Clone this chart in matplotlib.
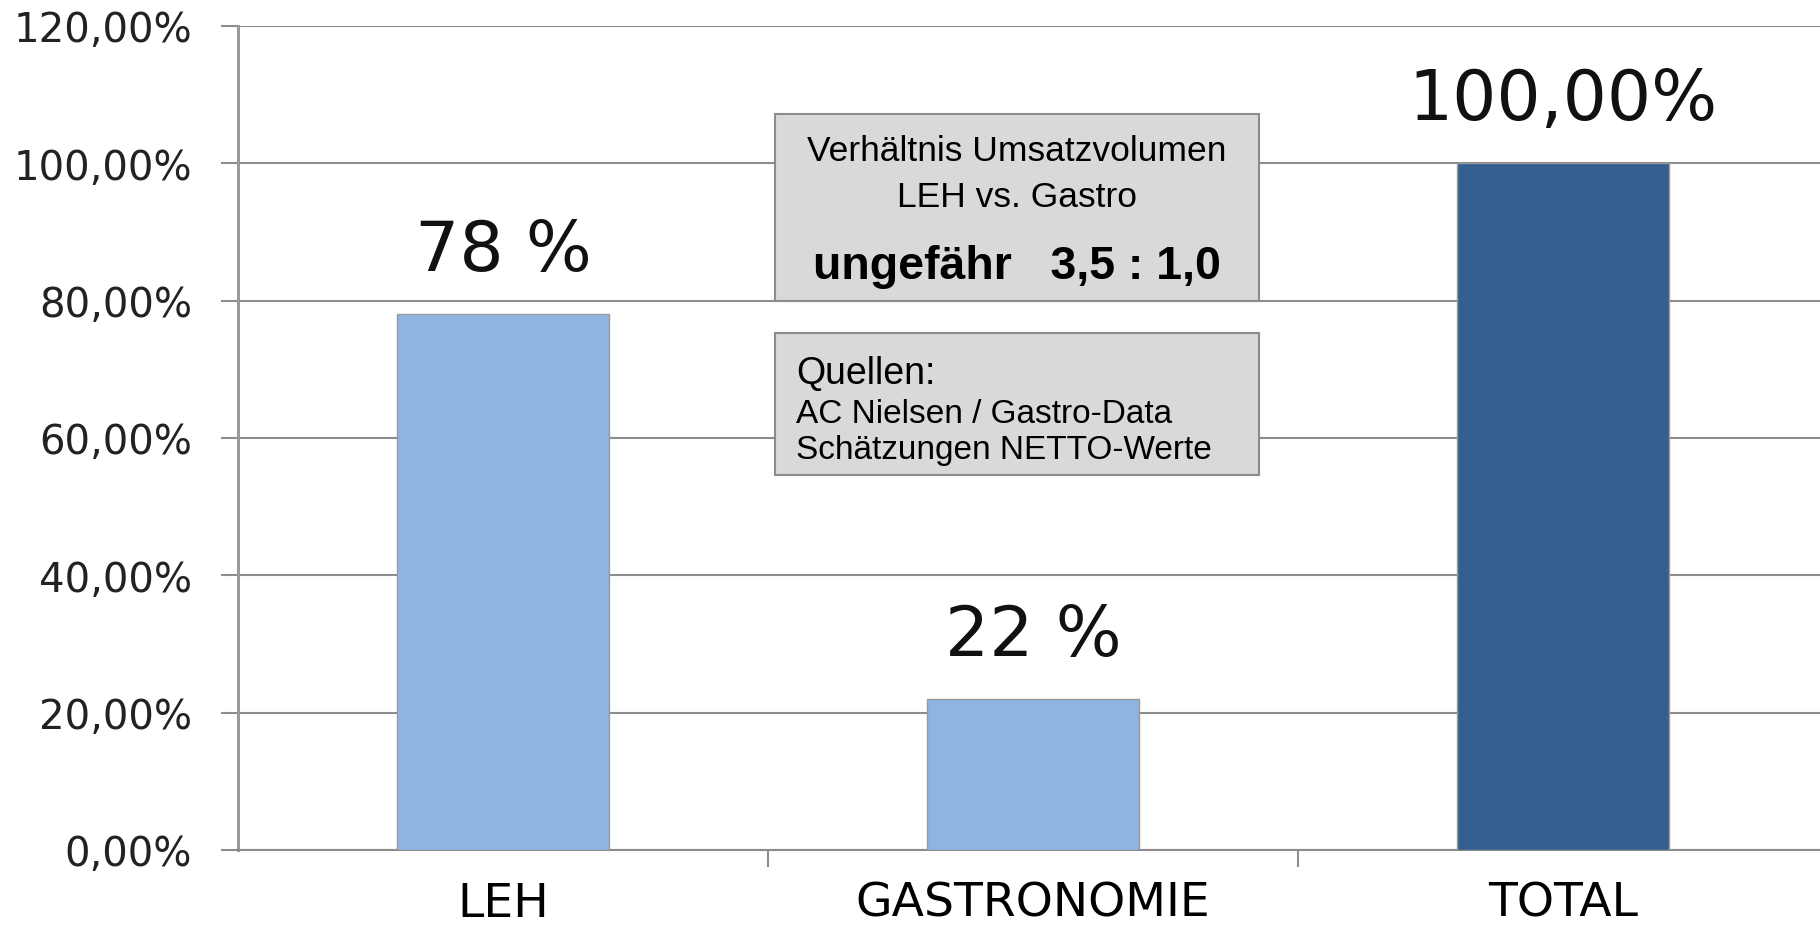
import numpy as np
import matplotlib
matplotlib.use("Agg")
import matplotlib.pyplot as plt
from matplotlib.patches import Rectangle

# data
categories = ['LEH', 'GASTRONOMIE', 'TOTAL']
values = [78, 22, 100]
value_labels = ['78 %', '22 %', '100,00%']
yticks = [0, 20, 40, 60, 80, 100, 120]

box_title = ['Verhältnis Umsatzvolumen', 'LEH vs. Gastro']
box_ratio = 'ungefähr   3,5 : 1,0'
src_head = 'Quellen:'
src_lines = ['AC Nielsen / Gastro-Data', 'Schätzungen NETTO-Werte']

light = '#8EB4E3'
dark = '#365F91'
grid_c = '#8c8c8c'

fig = plt.figure(figsize=(18.2, 9.28), dpi=100)
ax = fig.add_axes([0.1308, 0.083, 0.8736, 0.888])

x = np.arange(len(categories))
ax.bar(x, values, width=0.40, color=[light, light, dark],
       edgecolor='#9a9a9a', linewidth=1, zorder=3)

for xi, v, lab in zip(x, values, value_labels):
    ax.text(xi, v + 9.3, lab, ha='center', va='center',
            fontsize=50, family='DejaVu Sans', color='#111111', zorder=4)

ax.set_xlim(-0.5, 2.5)
ax.set_ylim(0, 120)
ax.set_yticks(yticks)
ax.set_yticklabels([('%.2f%%' % t).replace('.', ',') for t in yticks],
                   fontsize=29, family='DejaVu Sans', color='#222222')
ax.yaxis.grid(True, color=grid_c, linewidth=1.5, zorder=0)
ax.set_axisbelow(True)

ax.set_xticks(x)
ax.set_xticklabels(categories, fontsize=34, family='DejaVu Sans')
ax.set_xticks([0.5, 1.5, 2.5], minor=True)
ax.tick_params(axis='x', which='major', length=0, pad=22)
ax.tick_params(axis='x', which='minor', length=12, width=1.5, color=grid_c)
ax.tick_params(axis='y', length=12, width=1.5, color=grid_c, pad=21)

for s in ['top', 'right']:
    ax.spines[s].set_visible(False)
ax.spines['left'].set_color('#9a9a9a')
ax.spines['left'].set_linewidth(2.2)
ax.spines['bottom'].set_color(grid_c)
ax.spines['bottom'].set_linewidth(1.5)

# info boxes
box_kw = dict(facecolor='#D9D9D9', edgecolor='#8c8c8c', linewidth=1.5, zorder=5)
ax.add_patch(Rectangle((0.513, 80.0), 0.913, 27.2, **box_kw))
ax.add_patch(Rectangle((0.513, 54.6), 0.913, 20.7, **box_kw))

ax.text(0.97, 101.9, box_title[0], ha='center', va='center', fontsize=25.5,
        family='Liberation Sans', zorder=6)
ax.text(0.97, 95.2, box_title[1], ha='center', va='center', fontsize=25.5,
        family='Liberation Sans', zorder=6)
ax.text(0.97, 85.0, box_ratio, ha='center', va='center', fontsize=33.5,
        fontweight='bold', family='Liberation Sans', zorder=6)

ax.text(0.553, 69.4, src_head, ha='left', va='center', fontsize=27,
        family='Liberation Sans', zorder=6)
ax.text(0.553, 63.5, src_lines[0], ha='left', va='center', fontsize=24,
        family='Liberation Sans', zorder=6)
ax.text(0.553, 58.3, src_lines[1], ha='left', va='center', fontsize=24,
        family='Liberation Sans', zorder=6)

fig.savefig('out.png', dpi=100)
